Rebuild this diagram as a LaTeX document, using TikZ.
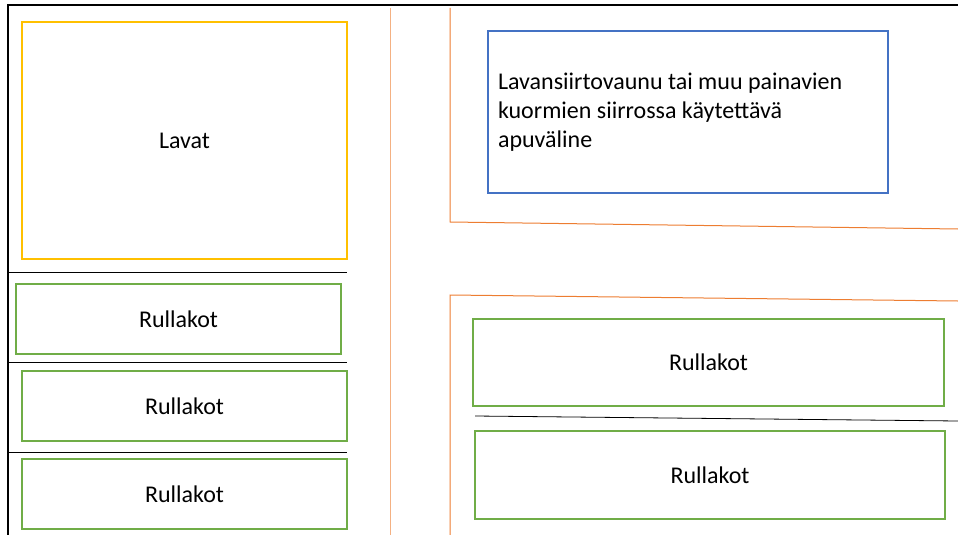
\documentclass[tikz,border=0pt]{standalone}
\usepackage{fontspec}
\setmainfont{Carlito}
\definecolor{lavaYellow}{HTML}{FFC000}
\definecolor{rullaGreen}{HTML}{70AD47}
\definecolor{apuBlue}{HTML}{4472C4}
\definecolor{rajaOrange}{HTML}{ED7D31}
\definecolor{rajaPeach}{HTML}{F4B183}
\tikzset{
    box/.style={draw, line width=1.5pt, inner sep=0pt, font=\fontsize{24}{29}\selectfont},
    lavabox/.style={box, draw=lavaYellow},
    rullabox/.style={box, draw=rullaGreen},
    apubox/.style={box, draw=apuBlue, align=flush left, text width=380pt, inner xsep=10pt},
    divider/.style={draw=black, line width=0.8pt},
    border/.style={draw=rajaOrange, line width=1pt},
}
\begin{document}
\begin{tikzpicture}[x=1pt, y=-1pt]
    \useasboundingbox (0,0) rectangle (958,535);
    % frame
    \draw[line width=1.6pt] (958,5) -- (8,5) -- (8,535);
    % left column
    \node[lavabox, minimum width=325pt, minimum height=237pt] (lavat) at (184.5,140.5) {Lavat};
    \foreach \y in {272,362,452} {
        \draw[divider] (8,\y) -- (347,\y);
    };
    \node[rullabox, minimum width=325pt, minimum height=70pt] (rulla1) at (178.5,319) {Rullakot};
    \node[rullabox, minimum width=325pt, minimum height=70pt] (rulla2) at (184.5,406) {Rullakot};
    \node[rullabox, minimum width=325pt, minimum height=70pt] (rulla3) at (184.5,494) {Rullakot};
    % aisle
    \draw[draw=rajaPeach, line width=1pt] (390,8) -- (390,535);
    % right column
    \draw[border] (450,8) -- (450,222) -- (958,229);
    \node[apubox, minimum width=400pt, minimum height=162pt] (apu) at (688,112)
        {Lavansiirtovaunu tai muu painavien\\ kuormien siirrossa käytettävä\\ apuväline};
    \draw[border] (958,301) -- (450,295) -- (450,535);
    \node[rullabox, minimum width=471pt, minimum height=87pt] (rulla4) at (708.5,362.5) {Rullakot};
    \draw[divider] (475,416) -- (958,421);
    \node[rullabox, minimum width=470pt, minimum height=88pt] (rulla5) at (710,475) {Rullakot};
\end{tikzpicture}
\end{document}
